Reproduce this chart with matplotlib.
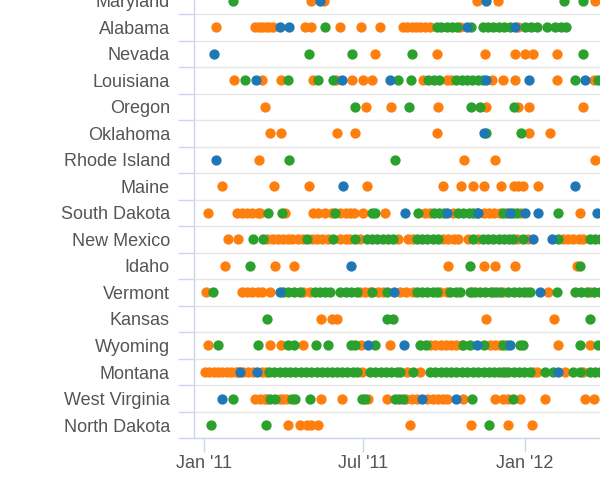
import matplotlib
matplotlib.use("Agg")
import matplotlib.pyplot as plt
import matplotlib.dates as mdates
import pandas as pd

# ---- data (days after 2011-01-01) ----
states = ["Maryland", "Alabama", "Nevada", "Louisiana", "Oregon", "Oklahoma",
          "Rhode Island", "Maine", "South Dakota", "New Mexico", "Idaho",
          "Vermont", "Kansas", "Wyoming", "Montana", "West Virginia", "North Dakota"]

maryland = {"blue": [132, 321],
            "orange": [122, 136, 310, 334, 445],
            "green": [33, 409, 431]}
alabama = {"blue": [86, 97, 299, 354],
           "orange": [14, 58, 62, 66, 70, 74, 78, 115, 122, 155, 179, 200, 226, 231, 236, 241,
                      246, 251, 257, 291, 357],
           "green": [138, 265, 270, 276, 282, 288, 304, 317, 323, 329, 335, 341, 348, 365, 372,
                     379, 390, 399, 406, 412]}
nevada = {"blue": [11],
          "orange": [194, 265, 319, 354, 365, 374, 401],
          "green": [119, 168, 237, 431]}
louisiana = {"blue": [59, 157, 211, 321, 369, 433],
             "orange": [34, 66, 88, 124, 150, 168, 181, 191, 249, 276, 281, 327, 340, 354, 401,
                        443],
             "green": [47, 95, 130, 147, 221, 235, 255, 261, 267, 287, 293, 299, 305, 311, 317,
                       422, 448]}
oregon = {"blue": [],
          "orange": [69, 184, 213, 266, 321, 357, 370, 431],
          "green": [172, 233, 304, 314, 352]}
oklahoma = {"blue": [318],
            "orange": [75, 88, 151, 172, 265, 369, 394],
            "green": [321, 361]}
rhode_island = {"blue": [14],
                "orange": [63, 296, 331, 445],
                "green": [97, 217]}
maine = {"blue": [158, 422],
         "orange": [21, 80, 119, 185, 272, 292, 306, 318, 338, 352, 357, 363, 380],
         "green": []}
south_dakota = {"blue": [229, 276, 312, 348, 365, 380, 447],
                "orange": [5, 37, 43, 49, 55, 61, 64, 92, 124, 130, 138, 145, 155, 161, 166,
                           170, 181, 206, 251, 257, 283, 318, 324, 330, 337, 361, 428],
                "green": [73, 89, 149, 191, 195, 243, 261, 267, 273, 289, 295, 301, 306, 310,
                          340, 345, 351, 356, 403]}
new_mexico = {"blue": [374, 396],
              "orange": [27, 39, 72, 78, 84, 90, 96, 100, 107, 113, 123, 128, 134, 141, 155,
                         161, 166, 177, 221, 232, 238, 272, 278, 284, 289, 300, 311, 356, 368,
                         408, 414, 420, 426, 431],
              "green": [56, 67, 117, 147, 172, 185, 191, 197, 203, 209, 215, 242, 248, 254, 260,
                        266, 306, 317, 323, 329, 335, 341, 347, 351, 363, 403, 439, 445, 450]}
idaho = {"blue": [167],
         "orange": [24, 81, 102, 278, 318, 331, 354, 424],
         "green": [52, 302, 428]}
vermont = {"blue": [86, 216, 382],
           "orange": [2, 43, 49, 55, 61, 66, 75, 113, 121, 177, 183, 189, 198, 204, 223, 230,
                      238, 268, 276, 305, 329, 340, 367, 391, 439],
           "green": [10, 90, 96, 102, 109, 126, 132, 138, 143, 155, 161, 167, 174, 191, 208,
                     242, 248, 254, 260, 265, 280, 287, 291, 302, 308, 314, 320, 326, 332, 337,
                     346, 352, 358, 364, 371, 401, 422, 429, 436, 443, 450]}
kansas = {"blue": [],
          "orange": [133, 145, 151, 321, 398],
          "green": [72, 208, 215, 439]}
wyoming = {"blue": [187, 227, 310, 348],
           "orange": [5, 75, 88, 113, 179, 212, 257, 263, 269, 275, 281, 287, 293, 325, 331,
                      337, 403, 439],
           "green": [16, 61, 96, 102, 127, 141, 167, 172, 194, 246, 252, 295, 302, 318, 340,
                     344, 359, 363, 428, 448]}
montana = {"blue": [41, 60, 402],
           "orange": [1, 6, 11, 16, 21, 26, 31, 36, 39, 44, 50, 56, 66, 70, 180, 231, 246, 342,
                      374, 379, 410, 431],
           "green": [74, 80, 86, 92, 98, 104, 110, 116, 122, 128, 134, 140, 146, 151, 157, 163,
                     169, 174, 189, 195, 201, 207, 213, 219, 223, 238, 257, 263, 269, 275, 281,
                     287, 293, 299, 306, 312, 318, 324, 330, 336, 340, 346, 352, 358, 364, 371,
                     388, 397, 420, 428, 439, 445, 450]}
west_virginia = {"blue": [21, 248, 287],
                 "orange": [58, 64, 69, 72, 86, 90, 94, 133, 157, 187, 208, 230, 236, 242, 254,
                            260, 266, 272, 276, 295, 331, 340, 346, 359, 388, 433, 443],
                 "green": [33, 75, 81, 100, 103, 121, 180, 183, 217, 222, 226, 305, 351]}
north_dakota = {"blue": [],
                "orange": [95, 109, 117, 122, 130, 234, 304, 346, 373],
                "green": [8, 70, 324]}

rows = [maryland, alabama, nevada, louisiana, oregon, oklahoma, rhode_island, maine,
        south_dakota, new_mexico, idaho, vermont, kansas, wyoming, montana,
        west_virginia, north_dakota]

series_order = ["orange", "green", "blue"]
series_colors = {"blue": "#1f77b4", "orange": "#ff7f0e", "green": "#2ca02c"}

start = pd.Timestamp("2011-01-01")
x_min = start + pd.Timedelta(days=-11.4)
x_max = start + pd.Timedelta(days=450.3)
tick_dates = [pd.Timestamp("2011-01-01"), pd.Timestamp("2011-07-01"), pd.Timestamp("2012-01-01")]

# ---- figure ----
plt.rcParams["font.family"] = ["Liberation Sans", "DejaVu Sans"]
fig = plt.figure(figsize=(6, 5), dpi=100)
ax = fig.add_axes([194 / 600, 1 - 438.3 / 500, 1 - 194 / 600, (438.3 + 12.5) / 500])

axis_col = "#ccd6eb"
grid_col = "#e6e6e6"
text_col = "#555555"

for z, key in enumerate(series_order):
    for i, row in enumerate(rows):
        days = row[key]
        if not days:
            continue
        dates = start + pd.to_timedelta(days, unit="D")
        ax.scatter(dates, [i] * len(days), s=55, color=series_colors[key],
                   linewidths=0, zorder=3 + z, clip_on=True)

ax.set_ylim(len(states) - 0.5, -0.5)
ax.set_xlim(x_min, x_max)

ax.set_yticks(range(len(states)))
ax.set_yticklabels(states)
ax.set_yticks([i + 0.5 for i in range(len(states))], minor=True)
ax.tick_params(axis="y", which="major", length=0, pad=17.3, labelsize=13, labelcolor=text_col)
ax.tick_params(axis="y", which="minor", length=11.5, width=1, color=axis_col, direction="out")
ax.grid(which="minor", axis="y", color=grid_col, linewidth=1, zorder=0)

ax.set_xticks(tick_dates)
ax.xaxis.set_major_formatter(mdates.DateFormatter("%b '%y"))
ax.tick_params(axis="x", which="major", length=10, width=1, color=axis_col, pad=2,
               labelsize=13, labelcolor=text_col)

for s in ["top", "right"]:
    ax.spines[s].set_visible(False)
for s in ["left", "bottom"]:
    ax.spines[s].set_color(axis_col)
    ax.spines[s].set_linewidth(1)

fig.savefig("out.png", dpi=100)
